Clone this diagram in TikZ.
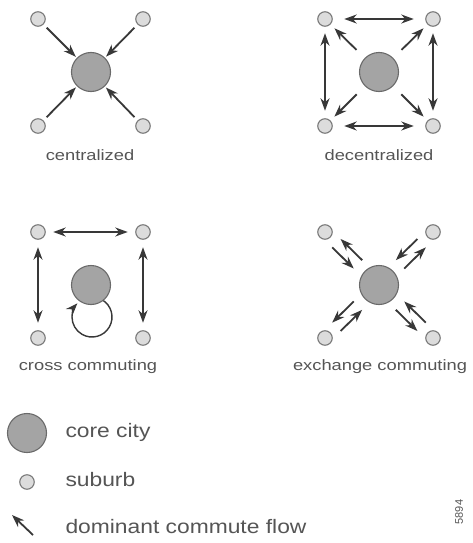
\documentclass[tikz,border=0pt]{standalone}
\usepackage{fontspec}
\setmainfont{Liberation Sans}
\newfontfamily\labfont[FakeStretch=1.22]{Liberation Sans}
\newfontfamily\legfont[FakeStretch=1.17]{Liberation Sans}
\usetikzlibrary{arrows.meta}
\definecolor{txt}{HTML}{555555}
\definecolor{subfill}{HTML}{DCDCDC}
\definecolor{subline}{HTML}{7A7A7A}
\definecolor{corefill}{HTML}{A4A4A4}
\definecolor{coreline}{HTML}{6A6A6A}
\definecolor{arrc}{HTML}{383838}
\begin{document}
\begin{tikzpicture}[x=1pt,y=-1pt,
  sub/.style={circle,draw=subline,fill=subfill,line width=1.1pt,minimum size=14.5pt,inner sep=0pt,outer sep=0pt},
  core/.style={circle,draw=coreline,fill=corefill,line width=1.1pt,minimum size=39pt,inner sep=0pt,outer sep=0pt},
  arr/.style={draw=arrc,line width=1.8pt,-{Stealth[length=12.5pt,width=9pt]}},
  darr/.style={draw=arrc,line width=1.8pt,{Stealth[length=12.5pt,width=9pt]}-{Stealth[length=12.5pt,width=9pt]}},
  lab/.style={text=txt,font=\labfont\fontsize{15}{15}\selectfont},
  leg/.style={text=txt,font=\legfont\fontsize{19.5}{19.5}\selectfont,anchor=west},
]
\fill[white] (0,0) rectangle (473,543);
\path[use as bounding box] (0,0) rectangle (473,543);

% ---------- centralized ----------
\node[core] (c1) at (91,72) {};
\node[sub] (a1) at (38,19) {};
\node[sub] (a2) at (143,19) {};
\node[sub] (a3) at (38,126) {};
\node[sub] (a4) at (143,126) {};
\foreach \s in {a1,a2,a3,a4}
  \draw[arr,shorten <=5pt,shorten >=2pt] (\s) -- (c1);
\node[lab] (l1) at (90,155) {centralized};

% ---------- decentralized ----------
\node[core] (c2) at (379,72) {};
\node[sub] (b1) at (325,19) {};
\node[sub] (b2) at (433,19) {};
\node[sub] (b3) at (325,126) {};
\node[sub] (b4) at (433,126) {};
\foreach \s in {b1,b2,b3,b4}
  \draw[arr,shorten <=12pt,shorten >=6pt] (c2) -- (\s);
\draw[darr,shorten <=12pt,shorten >=12pt] (b1) -- (b2);
\draw[darr,shorten <=12pt,shorten >=12pt] (b3) -- (b4);
\draw[darr,shorten <=7pt,shorten >=8pt] (b1) -- (b3);
\draw[darr,shorten <=7pt,shorten >=8pt] (b2) -- (b4);
\node[lab] (l2) at (379,155) {decentralized};

% ---------- cross commuting ----------
\coordinate (lc) at (92,317);
\draw[draw=arrc,line width=1.4pt,-{Stealth[length=12pt,width=9pt]}]
  (lc) ++(-60:20) arc[start angle=-60,end angle=223,radius=20];
\node[core] (c3) at (91,285) {};
\node[sub] (d1) at (38,232) {};
\node[sub] (d2) at (143,232) {};
\node[sub] (d3) at (38,338) {};
\node[sub] (d4) at (143,338) {};
\draw[darr,shorten <=8pt,shorten >=8pt] (d1) -- (d2);
\draw[darr,shorten <=8pt,shorten >=8pt] (d1) -- (d3);
\draw[darr,shorten <=8pt,shorten >=8pt] (d2) -- (d4);
\node[lab] (l3) at (88,367) {cross commuting};

% ---------- exchange commuting ----------
\node[core] (c4) at (379,285) {};
\node[sub] (e1) at (325,232) {};
\node[sub] (e2) at (433,232) {};
\node[sub] (e3) at (325,338) {};
\node[sub] (e4) at (433,338) {};
% outward (core -> suburb), offset to its right
\draw[arr,shorten <=10pt,shorten >=8.7pt,transform canvas={shift={(4.2pt,4.2pt)}}] (c4) -- (e1);
\draw[arr,shorten <=10pt,shorten >=8.7pt,transform canvas={shift={(4.2pt,-4.2pt)}}] (c4) -- (e2);
\draw[arr,shorten <=10pt,shorten >=8.7pt,transform canvas={shift={(-4.2pt,4.2pt)}}] (c4) -- (e3);
\draw[arr,shorten <=10pt,shorten >=8.7pt,transform canvas={shift={(-4.2pt,-4.2pt)}}] (c4) -- (e4);
% inward (suburb -> core)
\draw[arr,shorten <=8.7pt,shorten >=10pt,transform canvas={shift={(-4.2pt,-4.2pt)}}] (e1) -- (c4);
\draw[arr,shorten <=8.7pt,shorten >=10pt,transform canvas={shift={(-4.2pt,4.2pt)}}] (e2) -- (c4);
\draw[arr,shorten <=8.7pt,shorten >=10pt,transform canvas={shift={(4.2pt,-4.2pt)}}] (e3) -- (c4);
\draw[arr,shorten <=8.7pt,shorten >=10pt,transform canvas={shift={(4.2pt,4.2pt)}}] (e4) -- (c4);
\node[lab] (l4) at (380,367) {exchange commuting};

% ---------- legend ----------
\node[core] (k1) at (27,433) {};
\node[leg] (t1) at (62,432) {core city};
\node[sub] (k2) at (27,482) {};
\node[leg] (t2) at (62,480) {suburb};
\coordinate (kt) at (33,535);
\coordinate (kh) at (12,515);
\draw[arr] (kt) -- (kh);
\node[leg] (t3) at (62,527) {dominant commute flow};
\node[text=txt,font=\fontsize{11}{11}\selectfont,rotate=90] (num) at (459,512) {5894};
\end{tikzpicture}
\end{document}
